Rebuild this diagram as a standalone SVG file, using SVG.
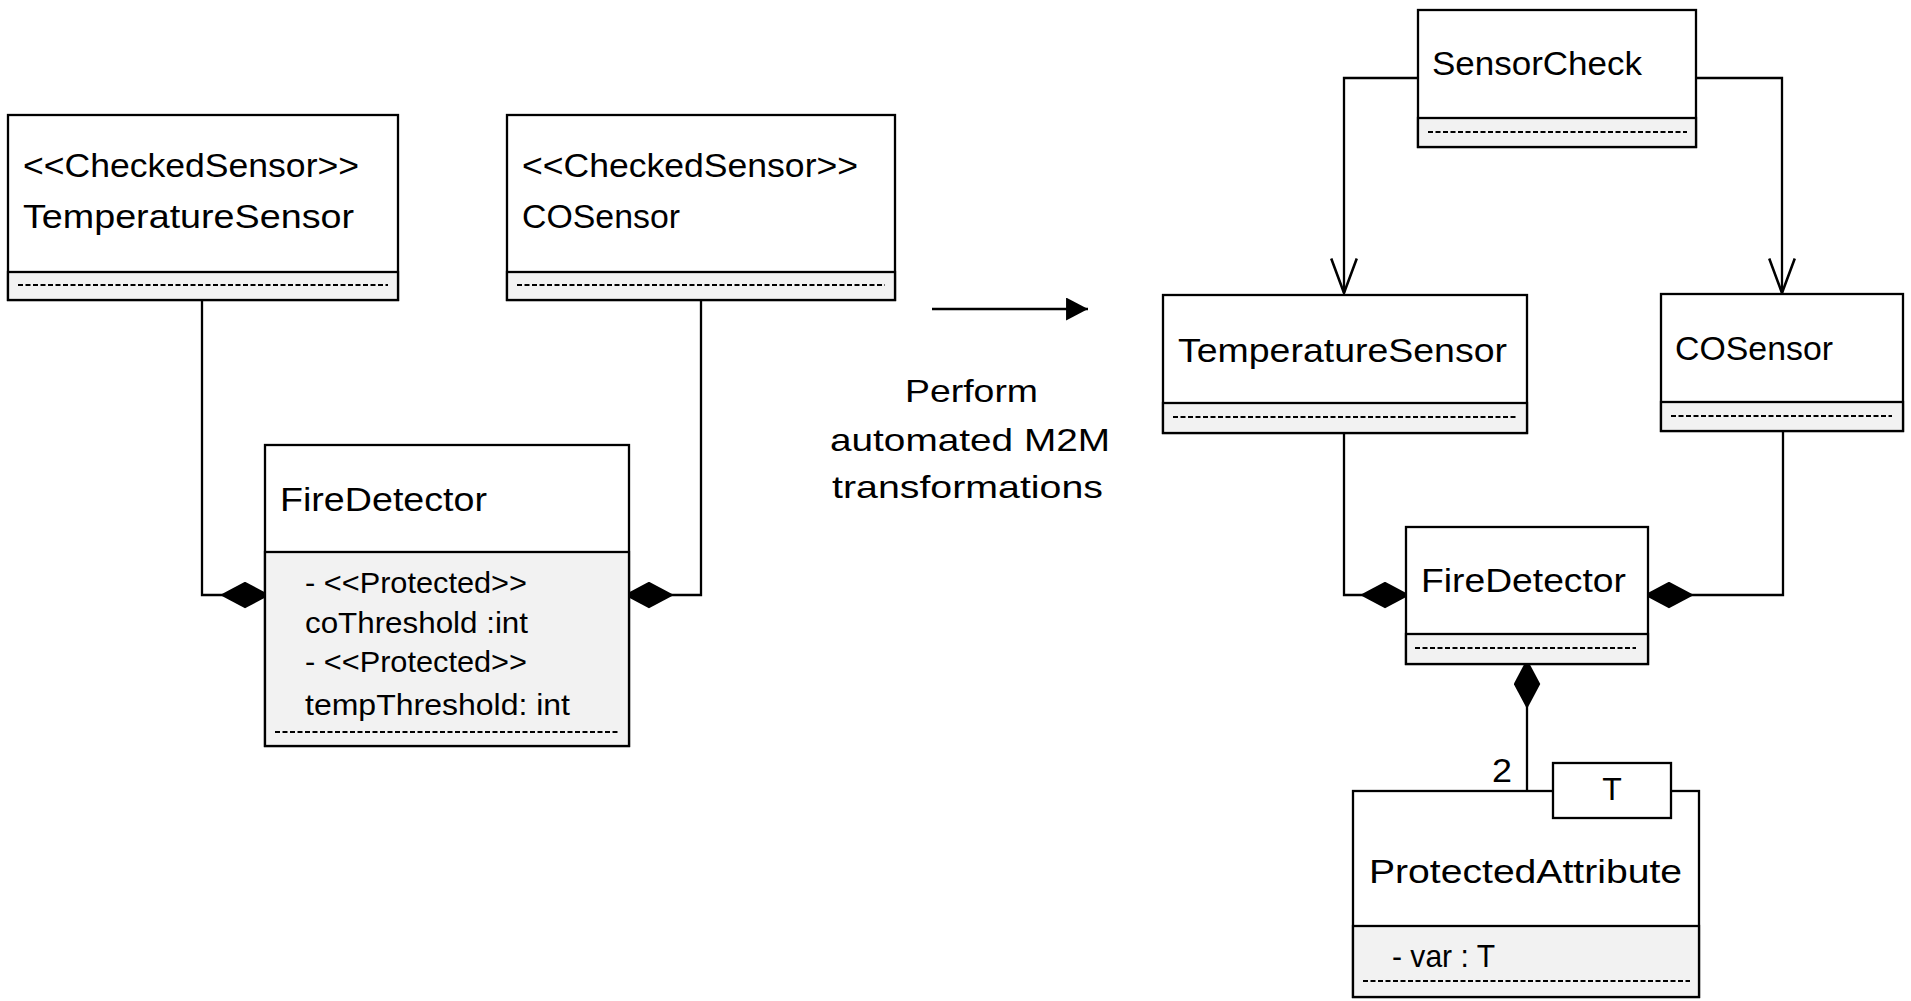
<svg xmlns="http://www.w3.org/2000/svg" width="1911" height="1001" viewBox="0 0 1911 1001">
  <style>
    .box { fill: #ffffff; stroke: #000000; stroke-width: 2.3; }
    .comp { fill: #f2f2f2; stroke: #000000; stroke-width: 2.3; }
    .dash { stroke: #000000; stroke-width: 2.2; stroke-dasharray: 5 2.5; fill: none; }
    .conn { fill: none; stroke: #000000; stroke-width: 2.3; }
    text { font-family: "Liberation Sans", Arial, sans-serif; fill: #000000; }
    .t { font-size: 34px; }
    .a { font-size: 29px; }
    .s { font-size: 32px; }
  </style>
  <defs>
    <!-- composition: filled diamond on the whole side -->
    <marker id="diamond" markerUnits="userSpaceOnUse" markerWidth="50" markerHeight="27" viewBox="0 0 49 26" refX="48" refY="13" orient="auto">
      <path d="M0,13 L24.5,0 L49,13 L24.5,26 Z" fill="#000000"/>
    </marker>
    <!-- navigable association: open arrowhead -->
    <marker id="open" markerUnits="userSpaceOnUse" markerWidth="40" markerHeight="30" viewBox="-2 -2 36 27" refX="31" refY="11.5" orient="auto">
      <path d="M0,0 L31,11.5 L0,23" fill="none" stroke="#000000" stroke-width="2.3"/>
    </marker>
    <!-- transformation arrow: filled triangle -->
    <marker id="solid" markerUnits="userSpaceOnUse" markerWidth="22" markerHeight="23" viewBox="0 0 21 22" refX="21" refY="11" orient="auto">
      <path d="M0,0 L21,11 L0,22 Z" fill="#000000"/>
    </marker>
  </defs>

  <!-- connectors -->
  <g id="connectors">
    <path class="conn" d="M202,300 V595 H269" marker-end="url(#diamond)"/>
    <path class="conn" d="M701,300 V595 H625" marker-end="url(#diamond)"/>
    <path class="conn" d="M932,309 H1088" marker-end="url(#solid)"/>
    <path class="conn" d="M1418,78 H1344 V293" marker-end="url(#open)"/>
    <path class="conn" d="M1696,78 H1782 V293" marker-end="url(#open)"/>
    <path class="conn" d="M1344,433 V595 H1409" marker-end="url(#diamond)"/>
    <path class="conn" d="M1783,431 V595 H1645" marker-end="url(#diamond)"/>
    <path class="conn" d="M1527,791 V660" marker-end="url(#diamond)"/>
  </g>

  <!-- source model -->
  <g id="src-temperature-sensor">
    <rect class="box" x="8" y="115" width="390" height="185"/>
    <rect class="comp" x="8" y="272" width="390" height="28"/>
    <line class="dash" x1="18" y1="285" x2="388" y2="285"/>
    <text class="t" x="23" y="177" textLength="336" lengthAdjust="spacingAndGlyphs">&lt;&lt;CheckedSensor&gt;&gt;</text>
    <text class="t" x="23" y="228" textLength="331" lengthAdjust="spacingAndGlyphs">TemperatureSensor</text>
  </g>

  <g id="src-co-sensor">
    <rect class="box" x="507" y="115" width="388" height="185"/>
    <rect class="comp" x="507" y="272" width="388" height="28"/>
    <line class="dash" x1="517" y1="285" x2="885" y2="285"/>
    <text class="t" x="522" y="177" textLength="336" lengthAdjust="spacingAndGlyphs">&lt;&lt;CheckedSensor&gt;&gt;</text>
    <text class="t" x="522" y="228" textLength="158" lengthAdjust="spacingAndGlyphs">COSensor</text>
  </g>

  <g id="src-fire-detector">
    <rect class="box" x="265" y="445" width="364" height="301"/>
    <rect class="comp" x="265" y="552" width="364" height="194"/>
    <line class="dash" x1="275" y1="732" x2="619" y2="732"/>
    <text class="t" x="280" y="511" textLength="207" lengthAdjust="spacingAndGlyphs">FireDetector</text>
    <text class="a" x="305" y="593" textLength="222" lengthAdjust="spacingAndGlyphs">- &lt;&lt;Protected&gt;&gt;</text>
    <text class="a" x="305" y="633" textLength="223" lengthAdjust="spacingAndGlyphs">coThreshold :int</text>
    <text class="a" x="305" y="672" textLength="222" lengthAdjust="spacingAndGlyphs">- &lt;&lt;Protected&gt;&gt;</text>
    <text class="a" x="305" y="715" textLength="265" lengthAdjust="spacingAndGlyphs">tempThreshold: int</text>
  </g>

  <!-- transformation label -->
  <g id="transformation-label">
    <text class="s" x="905" y="402" textLength="133" lengthAdjust="spacingAndGlyphs">Perform</text>
    <text class="s" x="830" y="451" textLength="280" lengthAdjust="spacingAndGlyphs">automated M2M</text>
    <text class="s" x="832" y="498" textLength="271" lengthAdjust="spacingAndGlyphs">transformations</text>
  </g>

  <!-- target model -->
  <g id="sensor-check">
    <rect class="box" x="1418" y="10" width="278" height="137"/>
    <rect class="comp" x="1418" y="118" width="278" height="29"/>
    <line class="dash" x1="1428" y1="132" x2="1687" y2="132"/>
    <text class="t" x="1432" y="75" textLength="210" lengthAdjust="spacingAndGlyphs">SensorCheck</text>
  </g>

  <g id="tgt-temperature-sensor">
    <rect class="box" x="1163" y="295" width="364" height="138"/>
    <rect class="comp" x="1163" y="403" width="364" height="30"/>
    <line class="dash" x1="1173" y1="417" x2="1517" y2="417"/>
    <text class="t" x="1178" y="362" textLength="329" lengthAdjust="spacingAndGlyphs">TemperatureSensor</text>
  </g>

  <g id="tgt-co-sensor">
    <rect class="box" x="1661" y="294" width="242" height="137"/>
    <rect class="comp" x="1661" y="402" width="242" height="29"/>
    <line class="dash" x1="1671" y1="416" x2="1892" y2="416"/>
    <text class="t" x="1675" y="360" textLength="158" lengthAdjust="spacingAndGlyphs">COSensor</text>
  </g>

  <g id="tgt-fire-detector">
    <rect class="box" x="1406" y="527" width="242" height="137"/>
    <rect class="comp" x="1406" y="634" width="242" height="30"/>
    <line class="dash" x1="1415" y1="648" x2="1636" y2="648"/>
    <text class="t" x="1421" y="592" textLength="205" lengthAdjust="spacingAndGlyphs">FireDetector</text>
  </g>

  <g id="protected-attribute">
    <rect class="box" x="1353" y="791" width="346" height="206"/>
    <rect class="comp" x="1353" y="926" width="346" height="71"/>
    <line class="dash" x1="1363" y1="981" x2="1690" y2="981"/>
    <text class="t" x="1369" y="883" textLength="313" lengthAdjust="spacingAndGlyphs">ProtectedAttribute</text>
    <text class="s" x="1392" y="967" textLength="103" lengthAdjust="spacingAndGlyphs">- var : T</text>
    <!-- template parameter -->
    <rect class="box" x="1553" y="763" width="118" height="55"/>
    <text class="s" x="1612" y="800" text-anchor="middle">T</text>
    <!-- multiplicity -->
    <text class="t" x="1492" y="782" textLength="20" lengthAdjust="spacingAndGlyphs">2</text>
  </g>
</svg>
